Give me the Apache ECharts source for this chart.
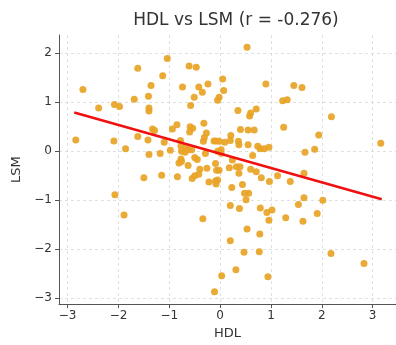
<!DOCTYPE html>
<html>
<head>
<meta charset="utf-8">
<script src="https://cdn.jsdelivr.net/npm/echarts@6/dist/echarts.min.js"></script>
<style>
  html, body { margin: 0; padding: 0; background: #fff; }
  #chart { width: 396px; height: 345px; }
</style>
</head>
<body>
<div id="chart"></div>
<script>
// HDL (x) and LSM (y) values
const hdl = [
  -2.84, -2.70, -2.39, -2.08, -1.98, -2.09, -1.86, -2.07, -1.89, -1.62,
  -1.69, -1.36, -1.41, -1.40, -1.40, -1.62, -1.42, -1.33, -1.29, -1.40,
  -1.18, -1.10, -1.04, -1.13, -0.98, -0.94, -0.85, -0.78, -0.74, -0.61,
  -0.47, -0.42, -0.35, -0.24, -0.51, -0.58, -0.32, -0.60, -0.54, -0.59,
  -0.27, -0.31, -0.33, -0.12, -0.08, -0.77, -0.68, -0.63, -0.56, -0.69,
  -0.76, -0.77, -0.50, -0.29, 0.02, 0.05, 0.07, -0.02, -0.05, 0.53,
  0.90, 1.45, 1.61, 1.23, 1.32, 0.35, 0.58, 0.60, 0.71, 2.19,
  1.25, 0.40, 0.55, 0.67, 1.94, 1.86, 1.67, 3.16, 0.21, 0.20,
  0.09, -0.02, 0.36, 0.37, 0.55, 0.74, 0.79, 0.87, 0.96, 0.64,
  0.02, -0.05, 0.24, 0.18, 0.32, 0.39, 0.37, -0.02, -0.05, 0.60,
  0.71, 0.81, 0.97, 1.13, 1.38, 1.65, 0.23, 0.44, 0.48, 0.56,
  0.51, 0.20, 0.38, 0.79, 0.92, 1.02, 0.96, 1.29, 1.54, 1.65,
  1.63, 1.91, 2.02, 0.53, 0.78, 0.20, 0.47, 0.77, 2.18, 2.83,
  0.31, 0.03, 0.94, -0.11, -0.34, -1.50, -1.15, -0.84, -0.55, -0.50,
  -0.42, -0.40, -0.26, -0.09, -0.07, -0.22, -0.09, -0.08, -0.81, -0.63,
  -0.45, -0.76
];
const lsm = [
  0.23, 1.26, 0.88, 0.95, 0.91, 0.21, 0.05, -0.89, -1.30, 1.69,
  1.06, 1.34, 1.12, 0.88, 0.82, 0.30, 0.23, 0.45, 0.42, -0.07,
  -0.05, 0.18, 1.89, 1.54, 0.02, 0.45, 0.54, 0.22, 1.31, 1.74,
  1.71, 1.31, 1.20, 1.37, 1.10, 0.93, 0.57, 0.39, 0.47, 0.50,
  0.37, 0.28, 0.20, 0.21, 0.21, 0.10, 0.06, 0.03, 0.03, -0.02,
  0.00, -0.16, -0.13, -0.05, -0.04, 1.47, 1.24, 1.10, 1.04, 2.12,
  1.37, 1.34, 1.30, 1.03, 1.05, 0.83, 0.72, 0.78, 0.86, 0.70,
  0.49, 0.44, 0.43, 0.43, 0.33, 0.04, -0.02, 0.16, 0.32, 0.22,
  0.18, 0.20, 0.20, 0.13, 0.13, 0.10, 0.05, 0.05, 0.08, -0.09,
  0.03, 0.00, -0.18, -0.34, -0.32, -0.32, -0.45, -0.39, -0.59, -0.37,
  -0.42, -0.54, -0.62, -0.50, -0.62, -0.45, -0.74, -0.68, -0.86, -0.86,
  -0.99, -1.11, -1.17, -1.16, -1.25, -1.20, -1.41, -1.36, -1.09, -0.95,
  -1.43, -1.27, -1.00, -1.59, -1.69, -1.83, -2.06, -2.05, -2.09, -2.29,
  -2.42, -2.54, -2.56, -2.87, -1.38, -0.54, -0.49, -0.52, -0.56, -0.50,
  -0.47, -0.37, -0.35, -0.25, -0.39, -0.63, -0.61, -0.67, -0.24, -0.29,
  -0.17, -0.21
];

// fitted line end points
const fitX = [-2.87, 3.18];
const fitY = [0.79, -0.98];

const xTicks = [-3, -2, -1, 0, 1, 2, 3];
const yTicks = [-3, -2, -1, 0, 1, 2];

const points = hdl.map((x, i) => [x, lsm[i]]);
const fitLine = fitX.map((x, i) => [x, fitY[i]]);

const fmt = v => String(v).replace('-', '\u2212');
const font = 'DejaVu Sans';

const chart = echarts.init(document.getElementById('chart'));

const axisCommon = {
    type: 'value',
    nameLocation: 'middle',
    nameTextStyle: { fontFamily: font, fontSize: 13, color: '#333' },
    axisLine: { show: true, onZero: false, lineStyle: { color: '#555', width: 1 } },
    axisTick: { show: true, length: 4, lineStyle: { color: '#555' } },
    axisLabel: { fontFamily: font, fontSize: 12, color: '#333', formatter: fmt },
    splitLine: { show: true, lineStyle: { color: '#d8d8d8', type: [3, 3], width: 0.8 } }
};

chart.setOption({
    animation: false,
    backgroundColor: '#fff',
    title: {
        text: 'HDL vs LSM (r = -0.276)',
        left: 231,
        textAlign: 'center',
        top: 7,
        textStyle: { fontFamily: font, fontSize: 17, fontWeight: 'normal', color: '#333' }
    },
    grid: { left: 59, right: -7, top: 35, bottom: 40 },
    xAxis: {
        ...axisCommon,
        name: 'HDL',
        nameGap: 21,
        min: -3.17,
        max: 3.46,
        axisTick: { ...axisCommon.axisTick, customValues: xTicks },
        axisLabel: { ...axisCommon.axisLabel, margin: 6, customValues: xTicks }
    },
    yAxis: {
        ...axisCommon,
        name: 'LSM',
        nameGap: 33,
        min: -3.12,
        max: 2.37,
        axisTick: { ...axisCommon.axisTick, customValues: yTicks },
        axisLabel: { ...axisCommon.axisLabel, margin: 7, customValues: yTicks }
    },
    series: [
        {
            type: 'scatter',
            data: points,
            symbolSize: 7,
            itemStyle: { color: '#E8A325', opacity: 0.92 }
        },
        {
            type: 'line',
            data: fitLine,
            symbol: 'none',
            lineStyle: { color: '#F01010', width: 2.5 },
            z: 3
        }
    ]
});
</script>
</body>
</html>
